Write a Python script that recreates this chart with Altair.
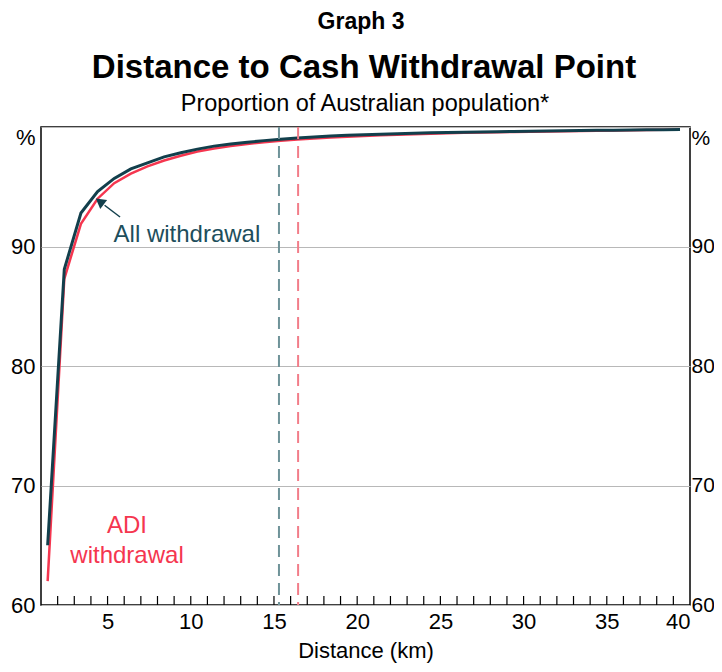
import altair as alt
import pandas as pd

# ---- data ----
distance_km = [1.4, 2.4, 3.4, 4.4, 5.4, 6.4, 7.4, 8.4, 9.4, 10.4, 11.4, 12.4, 13.4,
               14.4, 15.4, 16.4, 17.4, 18.4, 19.4, 20.4, 21.4, 22.4, 23.4, 24.4,
               25.4, 26.4, 27.4, 28.4, 29.4, 30.4, 31.4, 32.4, 33.4, 34.4, 35.4,
               36.4, 37.4, 38.4, 39.4]
all_withdrawal = [65.0, 88.1, 92.8, 94.6, 95.7, 96.5, 97.0, 97.5, 97.85, 98.15, 98.4,
                  98.58, 98.72, 98.86, 98.98, 99.08, 99.17, 99.24, 99.3, 99.35, 99.4,
                  99.44, 99.48, 99.51, 99.54, 99.56, 99.58, 99.6, 99.62, 99.64, 99.66,
                  99.68, 99.7, 99.72, 99.73, 99.75, 99.76, 99.78, 99.8]
adi_withdrawal = [62.0, 87.3, 91.9, 94.0, 95.3, 96.1, 96.7, 97.2, 97.6, 97.95, 98.2,
                  98.4, 98.58, 98.72, 98.84, 98.95, 99.04, 99.12, 99.19, 99.25, 99.31,
                  99.36, 99.4, 99.44, 99.48, 99.51, 99.54, 99.56, 99.59, 99.61, 99.63,
                  99.65, 99.67, 99.69, 99.71, 99.73, 99.75, 99.77, 99.79]
all_marker_km = [15.3]
adi_marker_km = [16.45]
x_labels = [5, 10, 15, 20, 25, 30, 35, 40]
x_minor_ticks = list(range(2, 40))
y_labels = [60, 70, 80, 90, 100]

W, H = 649, 478
FONT = "Liberation Sans"
DARK = "#123f4c"
RED = "#f5364f"

xs = alt.Scale(domain=[1, 40], nice=False, zero=False)
def ys():
    return alt.Scale(domain=[60, 100], nice=False, zero=False)

df = pd.DataFrame({"km": distance_km, "all": all_withdrawal, "adi": adi_withdrawal})
base = alt.Chart(df)

cond_base = {"condition": {"test": "datum.value == 100", "value": "top"}, "value": "middle"}
y_axis_left = alt.Axis(
    orient="left", values=y_labels, labelExpr="datum.value == 100 ? '%' : datum.label",
    labelBaseline=cond_base, labelFontSize=22, labelColor="black", labelPadding=6,
    ticks=False, domain=False, grid=True, gridColor="#b8b8b8", gridWidth=1, title=None)
y_axis_right = alt.Axis(
    orient="right", values=y_labels, labelExpr="datum.value == 100 ? '%' : datum.label",
    labelBaseline=cond_base, labelFontSize=21, labelColor="black", labelPadding=1,
    ticks=False, domain=False, grid=False, title=None)
x_axis = alt.Axis(values=x_labels, labelFontSize=22, labelColor="black", labelPadding=6,
                  ticks=False, domain=False, grid=False, title="Distance (km)",
                  titleFontSize=22, titleFontWeight="normal", titleColor="black",
                  titlePadding=8)

def X(field):
    return alt.X(field, scale=xs, axis=x_axis)

red_line = base.mark_line(color=RED, strokeWidth=2.5).encode(
    x=X("km:Q"), y=alt.Y("adi:Q", scale=ys(), axis=y_axis_right))
dark_line = base.mark_line(color=DARK, strokeWidth=3).encode(
    x=X("km:Q"), y=alt.Y("all:Q", scale=ys(), axis=y_axis_left))

vline_all = alt.Chart(pd.DataFrame({"km": all_marker_km})).mark_rule(
    color="#6f9399", strokeWidth=2, strokeDash=[12, 7]).encode(
    x=X("km:Q"), y=alt.value(0), y2=alt.value(H))
vline_adi = alt.Chart(pd.DataFrame({"km": adi_marker_km})).mark_rule(
    color="#f27d89", strokeWidth=2, strokeDash=[12, 7]).encode(
    x=X("km:Q"), y=alt.value(0), y2=alt.value(H))

minor = alt.Chart(pd.DataFrame({"km": x_minor_ticks})).mark_rule(
    color="black", strokeWidth=1.2).encode(
    x=X("km:Q"), y=alt.value(H), y2=alt.value(H - 9))

lab_all = alt.Chart(pd.DataFrame({"km": [9.77], "v": [90.4], "t": ["All withdrawal"]})).mark_text(
    font=FONT, fontSize=24, color="#1d4e5c", align="center", baseline="alphabetic").encode(
    x=X("km:Q"), y=alt.Y("v:Q", scale=ys(), axis=None), text="t:N")
lab_adi = alt.Chart(pd.DataFrame({"km": [6.17, 6.17], "v": [66.03, 63.5],
                                  "t": ["ADI", "withdrawal"]})).mark_text(
    font=FONT, fontSize=24, color=RED, align="center", baseline="alphabetic").encode(
    x=X("km:Q"), y=alt.Y("v:Q", scale=ys(), axis=None), text="t:N")

arrow_shaft = alt.Chart(pd.DataFrame({"x1": [5.75], "y1": [92.47], "x2": [4.82], "y2": [93.45]})).mark_rule(
    color=DARK, strokeWidth=1.5).encode(
    x=X("x1:Q"), y=alt.Y("y1:Q", scale=ys(), axis=None), x2="x2:Q", y2="y2:Q")
arrow_head = alt.Chart(pd.DataFrame({"x": [4.53], "y": [93.76]})).mark_point(
    shape="triangle-up", filled=True, color=DARK, size=130, angle=307, opacity=1).encode(
    x=X("x:Q"), y=alt.Y("y:Q", scale=ys(), axis=None))

t1 = alt.Chart(pd.DataFrame({"t": ["Graph 3"]})).mark_text(
    font=FONT, fontSize=23, fontWeight="bold", color="black", align="center", baseline="alphabetic").encode(
    x=alt.value(320), y=alt.value(-98), text="t:N")
t2 = alt.Chart(pd.DataFrame({"t": ["Distance to Cash Withdrawal Point"]})).mark_text(
    font=FONT, fontSize=33, fontWeight="bold", color="black", align="center", baseline="alphabetic").encode(
    x=alt.value(323), y=alt.value(-49), text="t:N")
t3 = alt.Chart(pd.DataFrame({"t": ["Proportion of Australian population*"]})).mark_text(
    font=FONT, fontSize=23.5, color="black", align="center", baseline="alphabetic").encode(
    x=alt.value(324), y=alt.value(-16), text="t:N")

chart = alt.layer(
    red_line, dark_line, vline_all, vline_adi, minor, lab_all, lab_adi,
    arrow_shaft, arrow_head, t1, t2, t3
).resolve_scale(y="independent").properties(
    width=W, height=H,
    autosize=alt.AutoSizeParams(type="none"),
    padding={"left": 33, "top": 119, "right": 24, "bottom": 59},
).configure(font=FONT).configure_view(stroke="black", strokeWidth=1.5)

chart.save("out.html", embed_options={"renderer": "svg", "actions": False})
